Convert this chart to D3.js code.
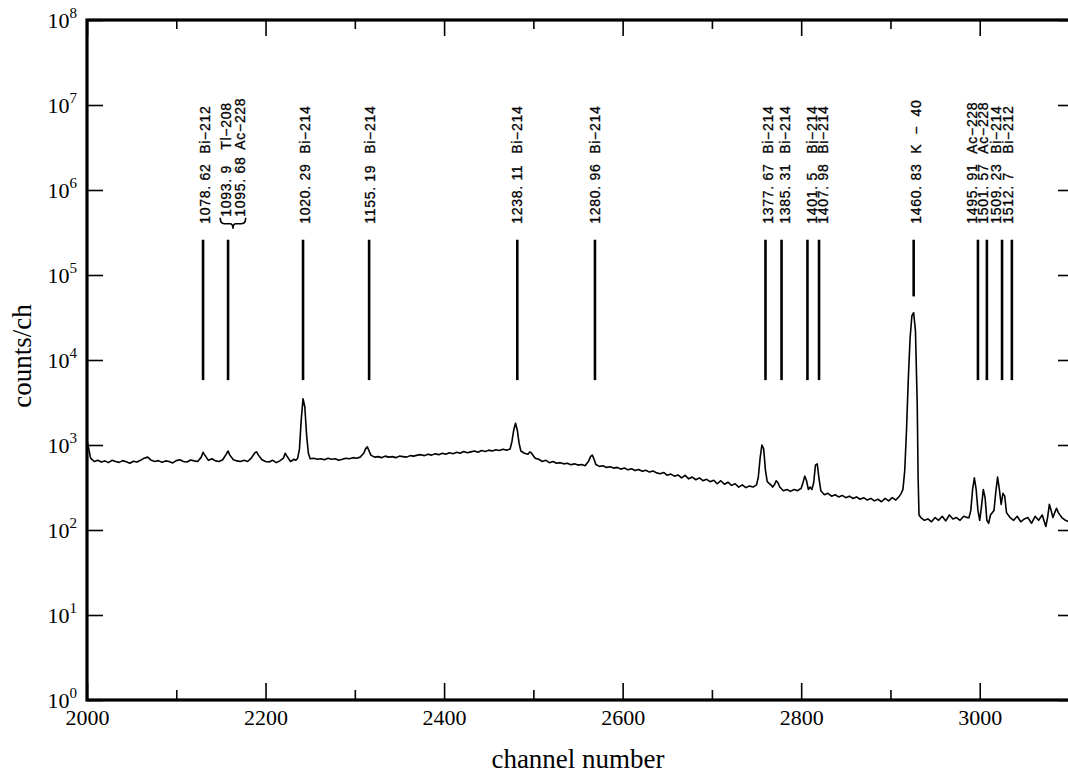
<!DOCTYPE html>
<html>
<head>
<meta charset="utf-8">
<script src="https://cdn.jsdelivr.net/npm/d3@7/dist/d3.min.js"></script>
<style>
  html, body { margin: 0; padding: 0; background: #fff; }
  svg { display: block; }
  .lbl { white-space: pre; }
</style>
</head>
<body>
<svg id="chart" width="1068" height="778"></svg>
<script>
// ---------------- DATA ----------------
const channels = [
  2000,2002,2004,2008,2012,2016,2020,2024,2028,2032,2036,2040,2044,2048,2052,2056,2060,2064,2068,2072,
  2076,2080,2084,2088,2092,2096,2100,2104,2108,2112,2116,2120,2124,2128,2130,2132,2136,2140,2144,2148,
  2152,2156,2158,2160,2164,2168,2172,2176,2180,2184,2188,2190,2192,2196,2200,2204,2208,2212,2216,2220,
  2222,2224,2228,2232,2234,2236,2238,2240,2242,2244,2246,2248,2250,2254,2258,2262,2266,2270,2274,2278,
  2282,2286,2290,2294,2298,2302,2306,2310,2312,2314,2316,2318,2322,2326,2330,2334,2338,2342,2346,2350,
  2354,2358,2362,2366,2370,2374,2378,2382,2386,2390,2394,2398,2402,2406,2410,2414,2418,2422,2426,2430,
  2434,2438,2442,2446,2450,2454,2458,2462,2466,2470,2474,2476,2478,2480,2482,2484,2486,2490,2494,2496,
  2498,2502,2506,2510,2514,2518,2522,2526,2530,2534,2538,2542,2546,2550,2554,2558,2562,2564,2566,2568,
  2570,2574,2578,2582,2586,2590,2594,2598,2602,2606,2610,2614,2618,2622,2626,2630,2634,2638,2642,2646,
  2650,2654,2658,2662,2666,2670,2674,2678,2682,2686,2690,2694,2698,2702,2706,2710,2714,2718,2722,2726,
  2730,2734,2738,2742,2746,2750,2752,2754,2756,2758,2760,2762,2766,2768,2770,2772,2774,2776,2780,2784,
  2788,2792,2796,2800,2802,2804,2806,2808,2810,2812,2814,2816,2818,2820,2822,2826,2830,2834,2838,2842,
  2846,2850,2854,2858,2862,2866,2870,2874,2878,2882,2886,2890,2894,2898,2902,2906,2910,2912,2914,2916,
  2918,2920,2922,2924,2926,2928,2930,2931,2932,2934,2938,2942,2946,2950,2954,2958,2962,2966,2970,2974,
  2978,2982,2986,2988,2990,2992,2994,2996,2998,3000,3002,3004,3006,3008,3010,3012,3016,3018,3020,3022,
  3024,3026,3028,3030,3034,3038,3042,3046,3050,3054,3058,3062,3066,3070,3074,3076,3078,3080,3082,3084,
  3086,3088,3092,3096,3100
];
const counts = [
  1150,900,700,640,660,630,650,620,660,640,625,655,635,610,645,630,660,700,720,660,
  640,655,625,650,640,615,655,670,640,630,665,650,640,720,820,760,660,690,650,640,
  670,780,850,760,670,650,640,660,640,700,810,830,760,670,640,630,660,620,650,700,
  800,740,640,680,660,700,900,2000,3500,2800,1300,800,690,700,680,690,670,700,680,690,
  660,680,700,690,710,700,720,800,900,950,850,760,720,730,710,740,720,730,710,740,
  730,720,750,740,760,770,750,780,760,790,770,800,780,810,790,820,800,840,810,830,
  850,820,860,840,870,850,880,860,890,870,900,1100,1500,1800,1500,1050,850,800,780,830,
  800,700,680,640,660,620,640,610,620,600,610,585,600,580,590,570,650,730,760,680,
  590,560,570,545,555,535,545,520,535,510,525,500,515,490,505,480,495,470,460,475,
  440,455,430,445,410,440,400,420,390,410,380,395,370,385,350,380,345,365,335,350,
  320,340,315,330,320,340,420,700,1000,900,500,370,340,320,340,380,360,320,290,300,
  285,300,290,310,360,430,380,300,320,300,360,580,600,400,290,260,270,250,260,245,
  255,240,250,235,245,230,240,225,235,220,230,215,235,220,240,225,250,270,300,500,
  1500,6000,18000,33000,36000,22000,3000,400,150,140,130,135,125,140,130,145,128,150,135,140,
  130,145,140,140,170,300,410,300,170,130,190,300,240,130,120,150,170,280,420,300,
  200,270,250,160,140,130,145,125,135,140,120,145,130,150,110,140,200,170,140,160,
  180,160,140,130,125
];

// peak annotation labels (energy text, nuclide text, channel where the text column sits)
const labelNumbers  = ["1078. 62", "1093. 9", "1095. 68", "1020. 29", "1155. 19", "1238. 11", "1280. 96",
                       "1377. 67", "1385. 31", "1401. 5", "1407. 98", "1460. 83",
                       "1495. 91", "1501. 57", "1509. 23", "1512. 7"];
const labelNuclides = ["Bi−212", "Tl−208", "Ac−228", "Bi−214", "Bi−214", "Bi−214", "Bi−214",
                       "Bi−214", "Bi−214", "Bi−214", "Bi−214", "K  −  40",
                       "Ac−228", "Ac−228", "Bi−214", "Bi−212"];
const labelTextChannel = [2132, 2156, 2171, 2244, 2317, 2482, 2569,
                          2763, 2782, 2812, 2824, 2929,
                          2991, 3004, 3018, 3032];
const bracedLabels = [1, 2];   // the two labels joined by a brace

// vertical marker lines: channel, top count, bottom count
const markerChannel = [2130, 2158, 2242, 2316, 2482, 2569, 2760, 2778, 2807, 2820, 2926, 2998, 3008, 3025, 3036];
const markerTop     = [2.6e5, 2.6e5, 2.6e5, 2.6e5, 2.6e5, 2.6e5, 2.6e5, 2.6e5, 2.6e5, 2.6e5, 2.6e5, 2.6e5, 2.6e5, 2.6e5, 2.6e5];
const markerBottom  = [5800, 5800, 5800, 5800, 5800, 5800, 5800, 5800, 5800, 5800, 56000, 5800, 5800, 5800, 5800];

const xMajorTicks = [2000, 2200, 2400, 2600, 2800, 3000];
const xMinorTicks = [2100, 2300, 2500, 2700, 2900];
const yTicks = [1e0, 1e1, 1e2, 1e3, 1e4, 1e5, 1e6, 1e7, 1e8];
const xTitle = "channel number";
const yTitle = "counts/ch";

// ---------------- LAYOUT ----------------
const svg = d3.select("#chart");
const L = 87, R = 1069, T = 20, B = 700;
const frameRight = 1072;

const x = d3.scaleLinear().domain([2000, 3100]).range([L, R]);
const y = d3.scaleLog().domain([1, 1e8]).range([B, T]);

const serif = "'Liberation Serif', 'Times New Roman', serif";
const sans = "'Liberation Sans', Arial, sans-serif";

// spectrum
const spec = channels.map((c, i) => ({c, v: counts[i]}));
svg.append("path")
  .datum(spec)
  .attr("fill", "none")
  .attr("stroke", "#000")
  .attr("stroke-width", 1.6)
  .attr("stroke-linejoin", "round")
  .attr("d", d3.line().x(d => x(d.c)).y(d => y(d.v)));

// axes
function styleAxis(g) {
  g.attr("font-family", serif);
  g.select(".domain").remove();
  g.selectAll(".tick line").attr("stroke", "#000").attr("stroke-width", 1.6);
}

// bottom
svg.append("g").attr("transform", `translate(0,${B})`)
  .call(d3.axisBottom(x).tickValues(xMajorTicks).tickSize(-17).tickPadding(9).tickFormat(d3.format("d")))
  .call(styleAxis)
  .call(g => g.selectAll(".tick text").attr("font-family", serif).attr("font-size", 22).attr("fill", "#000"));
svg.append("g").attr("transform", `translate(0,${B})`)
  .call(d3.axisBottom(x).tickValues(xMinorTicks).tickSize(-10).tickFormat(""))
  .call(styleAxis);
// top
svg.append("g").attr("transform", `translate(0,${T})`)
  .call(d3.axisTop(x).tickValues(xMajorTicks).tickSize(-16).tickFormat(""))
  .call(styleAxis);
svg.append("g").attr("transform", `translate(0,${T})`)
  .call(d3.axisTop(x).tickValues(xMinorTicks).tickSize(-9).tickFormat(""))
  .call(styleAxis);
// left
const leftAx = svg.append("g").attr("transform", `translate(${L},0)`)
  .call(d3.axisLeft(y).tickValues(yTicks).tickSize(-16).tickPadding(10))
  .call(styleAxis);
leftAx.selectAll(".tick text").each(function(d) {
  const t = d3.select(this).text("")
    .attr("font-family", serif).attr("fill", "#000").attr("dy", "7");
  t.append("tspan").attr("font-size", 22).text("10");
  t.append("tspan").attr("font-size", 15).attr("dy", -10).text(Math.round(Math.log10(d)));
});
// right
svg.append("g").attr("transform", `translate(${frameRight},0)`)
  .call(d3.axisRight(y).tickValues(yTicks).tickSize(-14).tickFormat(""))
  .call(styleAxis);

// frame
svg.append("rect")
  .attr("x", L).attr("y", T).attr("width", frameRight - L).attr("height", B - T)
  .attr("fill", "none").attr("stroke", "#000").attr("stroke-width", 3.2);

// marker lines
svg.append("g").selectAll("line")
  .data(markerChannel.map((c, i) => ({c, top: markerTop[i], bottom: markerBottom[i]})))
  .join("line")
  .attr("x1", d => x(d.c)).attr("x2", d => x(d.c))
  .attr("y1", d => y(d.top)).attr("y2", d => y(d.bottom))
  .attr("stroke", "#000").attr("stroke-width", 2.6);

// labels
const labelBase = y(2.6e5) - 16;        // where each label text starts (bottom end)
const nuclideOffset = 70;
const labels = labelNumbers.map((n, i) => ({n, iso: labelNuclides[i], c: labelTextChannel[i], braced: bracedLabels.includes(i)}));
const lg = svg.append("g").attr("font-family", sans).attr("font-size", 14).attr("fill", "#000");
labels.forEach(d => {
  const start = d.braced ? labelBase - 7 : labelBase;
  const g = lg.append("g").attr("transform", `translate(${x(d.c)},${start}) rotate(-90)`);
  g.append("text").attr("class", "lbl").attr("x", 0).attr("dy", "0.36em").attr("letter-spacing", 0.7)
    .attr("stroke", "#000").attr("stroke-width", 0.3).text(d.n);
  g.append("text").attr("class", "lbl").attr("x", d.braced ? nuclideOffset - 3 : nuclideOffset).attr("dy", "0.36em").attr("letter-spacing", 0.7)
    .attr("stroke", "#000").attr("stroke-width", 0.3).text(d.iso);
});
// brace below the braced pair
{
  const xa = x(labelTextChannel[bracedLabels[0]]) - 6;
  const xb = x(labelTextChannel[bracedLabels[1]]) + 6;
  const mid = (xa + xb) / 2;
  const y0 = labelBase - 6, y1 = labelBase, y2 = labelBase + 5;
  const p = d3.path();
  p.moveTo(xa, y0);
  p.quadraticCurveTo(xa, y1, xa + 4, y1);
  p.lineTo(mid - 3, y1);
  p.quadraticCurveTo(mid, y1, mid, y2);
  p.quadraticCurveTo(mid, y1, mid + 3, y1);
  p.lineTo(xb - 4, y1);
  p.quadraticCurveTo(xb, y1, xb, y0);
  svg.append("path").attr("d", p.toString()).attr("fill", "none").attr("stroke", "#000").attr("stroke-width", 1.6);
}

// axis titles
svg.append("text")
  .attr("x", (L + R) / 2).attr("y", 768)
  .attr("text-anchor", "middle")
  .attr("font-family", serif).attr("font-size", 27).attr("fill", "#000")
  .text(xTitle);
svg.append("text")
  .attr("transform", `translate(31,${(T + B) / 2 - 4}) rotate(-90)`)
  .attr("text-anchor", "middle")
  .attr("font-family", serif).attr("font-size", 27).attr("fill", "#000")
  .text(yTitle);
</script>
</body>
</html>
